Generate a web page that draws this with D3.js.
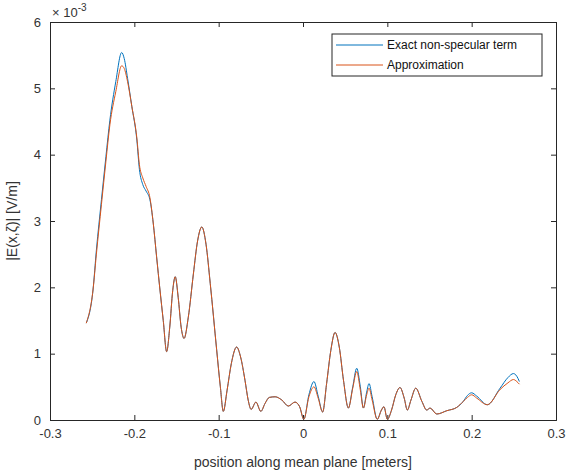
<!DOCTYPE html>
<html>
<head>
<meta charset="utf-8">
<script src="https://cdn.jsdelivr.net/npm/d3@7"></script>
<style>
  body { margin: 0; background: #fff; }
  svg { font-family: "Liberation Sans", Arial, sans-serif; }
</style>
</head>
<body>
<div id="chart"></div>
<script>
// positions along mean plane [m]
const xs = [-0.257, -0.249, -0.245, -0.239, -0.2337, -0.229, -0.222, -0.215, -0.212, -0.208,
  -0.203, -0.197, -0.194, -0.190, -0.186, -0.1815, -0.1776, -0.1736, -0.1696, -0.1657,
  -0.1617, -0.158, -0.1545, -0.1515, -0.148, -0.1445, -0.141, -0.136, -0.130, -0.125,
  -0.120, -0.115, -0.110, -0.1024, -0.098, -0.0945, -0.090, -0.085, -0.0787, -0.074,
  -0.0688, -0.065, -0.0615, -0.0558, -0.050, -0.045, -0.040, -0.033, -0.025, -0.0174,
  -0.0095, -0.004, 0.001, 0.007, 0.013, 0.018, 0.0233, 0.028, 0.033, 0.038,
  0.043, 0.048, 0.0538, 0.059, 0.0637, 0.068, 0.0716, 0.0755, 0.0783, 0.082,
  0.088, 0.093, 0.096, 0.100, 0.105, 0.110, 0.115, 0.120, 0.1237, 0.128,
  0.1337, 0.141, 0.1467, 0.1507, 0.1586, 0.1705, 0.1823, 0.190, 0.195, 0.200,
  0.206, 0.2186, 0.2337, 0.243, 0.2495, 0.2535, 0.2566];

// |E| values, units of 1e-3 V/m
const exactTerm = [1.46, 1.96, 2.56, 3.32, 3.97, 4.52, 5.10, 5.54, 5.45, 5.15,
  4.73, 4.22, 3.78, 3.55, 3.45, 3.32, 2.97, 2.46, 1.96, 1.50,
  1.03, 1.40, 1.95, 2.16, 1.85, 1.40, 1.23, 1.55, 2.20, 2.70,
  2.91, 2.65, 2.06, 1.06, 0.50, 0.13, 0.45, 0.85, 1.10, 0.95,
  0.60, 0.30, 0.16, 0.27, 0.13, 0.25, 0.34, 0.35, 0.30, 0.21,
  0.27, 0.20, 0.01, 0.38, 0.58, 0.36, 0.12, 0.55, 1.05, 1.32,
  1.10, 0.60, 0.18, 0.50, 0.78, 0.50, 0.18, 0.42, 0.55, 0.35,
  0.01, 0.15, 0.20, 0.01, 0.15, 0.38, 0.49, 0.33, 0.15, 0.30,
  0.48, 0.28, 0.15, 0.18, 0.09, 0.14, 0.19, 0.28, 0.37, 0.41,
  0.36, 0.23, 0.48, 0.64, 0.70, 0.66, 0.58];

const approxTerm = [1.46, 1.96, 2.50, 3.25, 3.90, 4.45, 4.95, 5.34, 5.30, 5.10,
  4.73, 4.25, 3.85, 3.65, 3.52, 3.35, 2.97, 2.46, 1.96, 1.50,
  1.03, 1.40, 1.95, 2.16, 1.85, 1.40, 1.23, 1.55, 2.20, 2.70,
  2.91, 2.65, 2.06, 1.06, 0.50, 0.13, 0.45, 0.85, 1.10, 0.95,
  0.60, 0.30, 0.16, 0.27, 0.13, 0.25, 0.34, 0.35, 0.30, 0.21,
  0.27, 0.20, 0.01, 0.35, 0.50, 0.33, 0.12, 0.55, 1.05, 1.32,
  1.10, 0.60, 0.18, 0.48, 0.73, 0.45, 0.18, 0.38, 0.48, 0.30,
  0.01, 0.15, 0.20, 0.01, 0.15, 0.38, 0.49, 0.33, 0.15, 0.30,
  0.48, 0.28, 0.15, 0.18, 0.09, 0.14, 0.19, 0.28, 0.34, 0.38,
  0.33, 0.23, 0.46, 0.56, 0.61, 0.58, 0.54];

const xTicks = [-0.3, -0.2, -0.1, 0, 0.1, 0.2, 0.3];
const yTicks = [0, 1, 2, 3, 4, 5, 6];
const seriesNames = ["Exact non-specular term", "Approximation"];
const seriesColors = ["#0072BD", "#D95319"];

const W = 567, H = 476;
const margin = { left: 50, right: 11, top: 22, bottom: 56 };
const axisColor = "#262626";

const svg = d3.select("#chart").append("svg")
  .attr("width", W)
  .attr("height", H);

const x = d3.scaleLinear().domain([-0.3, 0.3]).range([margin.left, W - margin.right]);
const y = d3.scaleLinear().domain([0, 6]).range([H - margin.bottom, margin.top]);

const fmtX = d => d === 0 ? "0" : d3.format(".1f")(d).replace("−", "-");

// bottom axis
svg.append("g")
  .attr("transform", `translate(0,${y(0)})`)
  .call(d3.axisBottom(x).tickValues(xTicks).tickSize(-5).tickPadding(9).tickFormat(fmtX))
  .call(g => g.selectAll("text").attr("font-size", 13).attr("fill", "#333"));

// top axis
svg.append("g")
  .attr("transform", `translate(0,${y(6)})`)
  .call(d3.axisTop(x).tickValues(xTicks).tickSize(-5).tickFormat(""));

// left axis
svg.append("g")
  .attr("transform", `translate(${x(-0.3)},0)`)
  .call(d3.axisLeft(y).tickValues(yTicks).tickSize(-5).tickPadding(9).tickFormat(d3.format("d")))
  .call(g => g.selectAll("text").attr("font-size", 13).attr("fill", "#333"));

// right axis
svg.append("g")
  .attr("transform", `translate(${x(0.3)},0)`)
  .call(d3.axisRight(y).tickValues(yTicks).tickSize(-5).tickFormat(""));

svg.selectAll(".domain").attr("stroke", axisColor);
svg.selectAll(".tick line").attr("stroke", axisColor);

// exponent label
const expo = svg.append("text")
  .attr("x", x(-0.3) + 2)
  .attr("y", 17)
  .attr("font-size", 13)
  .attr("fill", "#333");
expo.append("tspan").text("\u00d7 10");
expo.append("tspan").attr("dy", -6).attr("font-size", 10).text("-3");

// axis titles
svg.append("text")
  .attr("x", (x(-0.3) + x(0.3)) / 2)
  .attr("y", 467)
  .attr("text-anchor", "middle")
  .attr("font-size", 14)
  .attr("fill", "#333")
  .text("position along mean plane [meters]");

svg.append("text")
  .attr("transform", `translate(17,${(y(0) + y(6)) / 2}) rotate(-90)`)
  .attr("text-anchor", "middle")
  .attr("font-size", 14)
  .attr("fill", "#333")
  .text("|E(x,\u03b6)| [V/m]");

// lines
const line = d3.line()
  .x(d => x(d[0]))
  .y(d => y(d[1]))
  .curve(d3.curveMonotoneX);

[exactTerm, approxTerm].forEach((vals, i) => {
  svg.append("path")
    .datum(xs.map((v, j) => [v, vals[j]]))
    .attr("fill", "none")
    .attr("stroke", seriesColors[i])
    .attr("stroke-width", 1)
    .attr("d", line);
});

// legend
const lg = svg.append("g").attr("transform", "translate(332,34)");
lg.append("rect")
  .attr("width", 210)
  .attr("height", 42)
  .attr("fill", "#fff")
  .attr("stroke", axisColor);

seriesNames.forEach((name, i) => {
  const ly = 11 + i * 20;
  lg.append("line")
    .attr("x1", 4).attr("x2", 51)
    .attr("y1", ly).attr("y2", ly)
    .attr("stroke", seriesColors[i]);
  lg.append("text")
    .attr("x", 55)
    .attr("y", ly + 4)
    .attr("font-size", 12)
    .attr("fill", "#111")
    .text(name);
});
</script>
</body>
</html>
